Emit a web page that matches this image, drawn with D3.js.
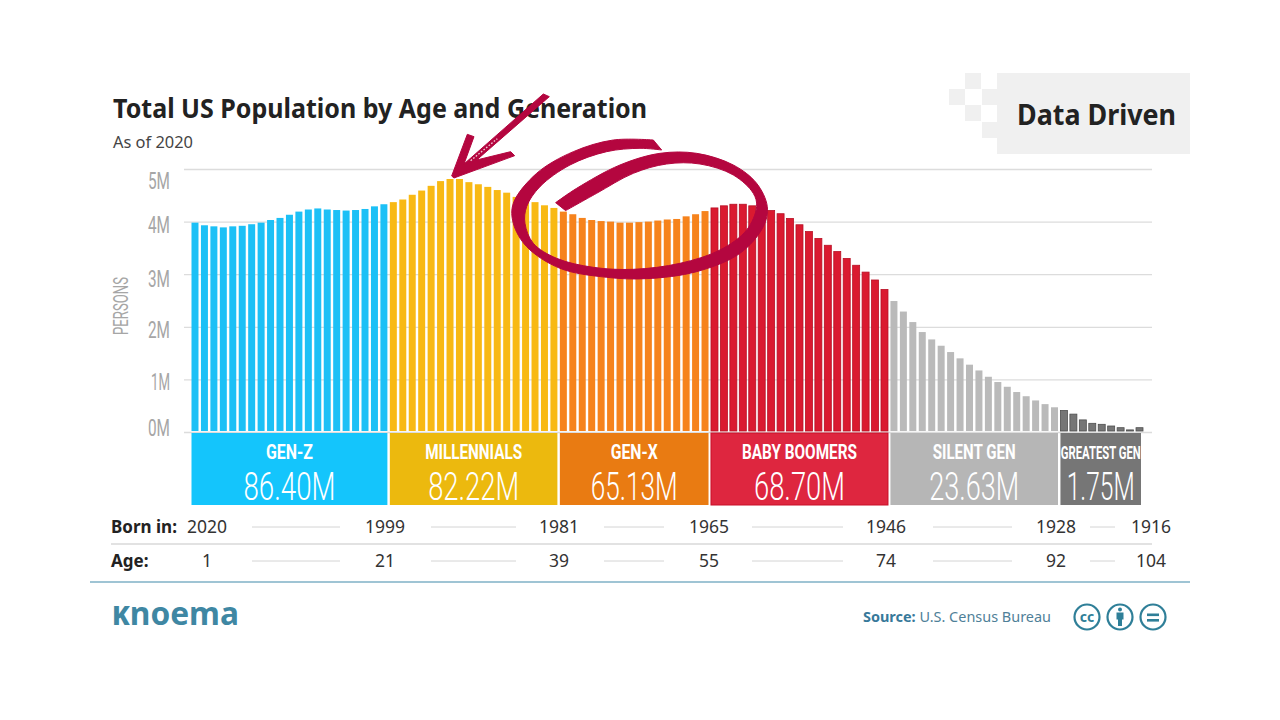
<!DOCTYPE html>
<html lang="en">
<head>
  <meta charset="UTF-8">
  <title>Total US Population by Age and Generation</title>
  <script src="https://d3js.org/d3.v7.min.js"></script>
  <style>
    body { margin: 0; background: #fff; }
    svg { display: block; }
    text { font-family: "Noto Sans", "Open Sans", sans-serif; }
    .cond { font-family: "Roboto", "Liberation Sans Narrow", sans-serif; }
    .axis path { display: none; }
    .axis line { stroke: #dcdcdc; stroke-width: 1.3px; }
    .axis text { fill: #a6a6a6; font-size: 23px; font-weight: 400; font-family: "Roboto", sans-serif; }
  </style>
</head>
<body>
  <div id="chart"></div>
  <script>
    // population per single year of age, millions
    const genZ = [3.98, 3.93, 3.91, 3.89, 3.91, 3.92, 3.95, 3.98, 4.03, 4.07, 4.13, 4.19, 4.23, 4.25, 4.23, 4.22, 4.21, 4.22, 4.24, 4.29, 4.33];
    const millennials = [4.37, 4.42, 4.51, 4.59, 4.68, 4.77, 4.81, 4.81, 4.75, 4.71, 4.66, 4.60, 4.55, 4.47, 4.41, 4.37, 4.31, 4.26];
    const genX = [4.19, 4.14, 4.07, 4.03, 4.01, 4.00, 3.98, 3.98, 3.99, 4.00, 4.02, 4.04, 4.05, 4.10, 4.14, 4.20];
    const boomers = [4.26, 4.30, 4.33, 4.33, 4.30, 4.26, 4.21, 4.15, 4.06, 3.94, 3.81, 3.68, 3.55, 3.43, 3.30, 3.17, 3.04, 2.89, 2.71];
    const silent = [2.49, 2.29, 2.09, 1.90, 1.76, 1.64, 1.52, 1.40, 1.28, 1.17, 1.05, 0.95, 0.86, 0.76, 0.68, 0.60, 0.53, 0.47];
    const greatest = [0.41, 0.34, 0.23, 0.165, 0.146, 0.114, 0.082, 0.04, 0.082];

    const genNames = ["GEN-Z", "MILLENNIALS", "GEN-X", "BABY BOOMERS", "SILENT GEN", "GREATEST GEN"];
    const genTotals = ["86.40M", "82.22M", "65.13M", "68.70M", "23.63M", "1.75M"];
    const genSeries = [genZ, millennials, genX, boomers, silent, greatest];
    const bornLabels = ["2020", "1999", "1981", "1965", "1946", "1928", "1916"];
    const ageLabels = ["1", "21", "39", "55", "74", "92", "104"];
    const yTicks = [0, 1, 2, 3, 4, 5];

    // styles
    const barColors = ["#1cc0f6", "#f8b914", "#f6831c", "#da1a30", "#bababa", "#767676"];
    const barStrokes = ["none", "none", "none", "#b80f24", "none", "#4f4f4f"];
    const blockColors = ["#14c5fc", "#ecb90e", "#e97b12", "#de263f", "#b6b6b6", "#767676"];
    const blockStrokes = ["none", "none", "none", "#c90f28", "none", "none"];
    const nameWidths = [47, 97, 47, 115, 83, 80];
    const totalWidths = [92, 91, 87, 91, 90, 68];
    const labelX = [207, 385, 559, 709, 886, 1056, 1151];
    const ruleX = [[252, 340], [431, 516], [604, 664], [752, 843], [933, 1012], [1090, 1115]];
    const tickNudge = [-5, 2, 3, 4, 3, 11];   // labels don't sit exactly on their gridlines

    const svg = d3.select("#chart").append("svg").attr("width", 1280).attr("height", 720);

    const y = d3.scaleLinear().domain([0, 5]).range([432, 169]);

    let bars = [];
    genSeries.forEach((s, g) => s.forEach(v => bars.push({ g, v, i: bars.length })));

    const x = d3.scaleBand().domain(d3.range(bars.length)).range([191.5, 1143]).paddingInner(0.26).paddingOuter(0);

    // gridlines + y labels
    const axis = svg.append("g")
      .attr("class", "axis")
      .attr("transform", "translate(1152,0)")
      .call(d3.axisLeft(y).tickValues(yTicks).tickSize(968).tickPadding(14).tickFormat(d => d + "M"));
    axis.selectAll("text")
      .attr("textLength", d => d == 1 ? 19 : 22)
      .attr("lengthAdjust", "spacingAndGlyphs")
      .attr("dy", (d, i) => 8 + tickNudge[i]);

    svg.append("text")
      .attr("class", "cond")
      .attr("transform", "translate(128,306) rotate(-90)")
      .attr("text-anchor", "middle")
      .attr("fill", "#a6a6a6")
      .attr("font-size", 21)
      .attr("textLength", 58)
      .attr("lengthAdjust", "spacingAndGlyphs")
      .text("PERSONS");

    // bars, they stop just above the blocks
    svg.selectAll(".bar").data(bars).enter().append("rect")
      .attr("class", "bar")
      .attr("x", d => x(d.i))
      .attr("y", d => y(d.v))
      .attr("width", x.bandwidth())
      .attr("height", d => y(0) - y(d.v) - 1)
      .attr("fill", d => barColors[d.g])
      .attr("stroke", d => barStrokes[d.g])
      .attr("stroke-width", 0.8);

    // generation blocks under the bars
    let start = 0;
    const blocks = genSeries.map((s, g) => {
      const b = { g, x0: x(start), x1: x(start + s.length - 1) + x.bandwidth() - (g == 5 ? 2 : 0) };
      start += s.length;
      return b;
    });

    svg.selectAll(".block").data(blocks).enter().append("rect")
      .attr("class", "block")
      .attr("x", d => d.x0)
      .attr("y", 433)
      .attr("width", d => d.x1 - d.x0)
      .attr("height", 72)
      .attr("fill", d => blockColors[d.g])
      .attr("stroke", d => blockStrokes[d.g]);

    svg.selectAll(".gen-name").data(blocks).enter().append("text")
      .attr("class", "gen-name cond")
      .attr("x", d => (d.x0 + d.x1) / 2)
      .attr("y", 458.5)
      .attr("text-anchor", "middle")
      .attr("fill", "#fff")
      .attr("font-weight", 700)
      .attr("font-size", d => d.g == 5 ? 18 : 21)
      .attr("textLength", d => nameWidths[d.g])
      .attr("lengthAdjust", "spacingAndGlyphs")
      .text(d => genNames[d.g]);

    svg.selectAll(".gen-total").data(blocks).enter().append("text")
      .attr("class", "gen-total cond")
      .attr("x", d => (d.x0 + d.x1) / 2)
      .attr("y", 500)
      .attr("text-anchor", "middle")
      .attr("fill", "#fff")
      .attr("font-weight", 300)
      .attr("font-size", 39)
      .attr("textLength", d => totalWidths[d.g])
      .attr("lengthAdjust", "spacingAndGlyphs")
      .text(d => genTotals[d.g]);

    // born in / age rows
    function row(labels, rowY, title) {
      svg.append("text").attr("x", 111).attr("y", rowY + 6)
        .attr("font-size", 17).attr("font-weight", 700).attr("fill", "#222").text(title);
      svg.selectAll(null).data(labels).enter().append("text")
        .attr("x", (d, i) => labelX[i])
        .attr("y", rowY + 6)
        .attr("text-anchor", "middle")
        .attr("font-size", 17.5)
        .attr("fill", "#333")
        .text(d => d);
      svg.selectAll(null).data(ruleX).enter().append("line")
        .attr("x1", d => d[0]).attr("x2", d => d[1])
        .attr("y1", rowY).attr("y2", rowY)
        .attr("stroke", "#d4d4d4");
    }
    row(bornLabels, 527, "Born in:");
    row(ageLabels, 561, "Age:");
    svg.append("line").attr("x1", 111).attr("x2", 1152).attr("y1", 544).attr("y2", 544)
      .attr("stroke", "#d8d8d8").attr("stroke-width", 1.3);

    // title
    svg.append("text").attr("x", 113).attr("y", 118)
      .attr("font-size", 27).attr("font-weight", 700).attr("fill", "#222")
      .attr("textLength", 534).attr("lengthAdjust", "spacingAndGlyphs")
      .text("Total US Population by Age and Generation");
    svg.append("text").attr("x", 113).attr("y", 148)
      .attr("font-size", 15.5).attr("fill", "#444")
      .attr("textLength", 80).attr("lengthAdjust", "spacingAndGlyphs")
      .text("As of 2020");

    // Data Driven badge
    const badge = svg.append("g").attr("fill", "#f0f0f0");
    badge.append("rect").attr("x", 997).attr("y", 73).attr("width", 193).attr("height", 81);
    [[965, 73], [949, 89], [982, 89], [965, 105], [982, 122]].forEach(p =>
      badge.append("rect").attr("x", p[0]).attr("y", p[1]).attr("width", 16).attr("height", 16));
    svg.append("text").attr("x", 1017).attr("y", 125)
      .attr("font-size", 29).attr("font-weight", 700).attr("fill", "#222")
      .attr("textLength", 159).attr("lengthAdjust", "spacingAndGlyphs")
      .text("Data Driven");

    // footer
    svg.append("line").attr("x1", 90).attr("x2", 1190).attr("y1", 582).attr("y2", 582)
      .attr("stroke", "#9fc4d4").attr("stroke-width", 2);
    const logo = svg.append("text").attr("x", 112).attr("y", 625)
      .attr("font-size", 33).attr("font-weight", 700).attr("fill", "#3f87a3")
      .attr("textLength", 127).attr("lengthAdjust", "spacingAndGlyphs");
    logo.append("tspan").style("font-variant", "small-caps").text("k");
    logo.append("tspan").text("noema");
    const source = svg.append("text").attr("x", 863).attr("y", 622)
      .attr("font-size", 15).attr("fill", "#4f8098")
      .attr("textLength", 188).attr("lengthAdjust", "spacingAndGlyphs");
    source.append("tspan").attr("font-weight", 700).attr("fill", "#37799a").text("Source: ");
    source.append("tspan").text("U.S. Census Bureau");

    // cc icons
    const teal = "#2f7f98";
    const icons = svg.append("g");
    [1087, 1120, 1153].forEach(cx => icons.append("circle")
      .attr("cx", cx).attr("cy", 617).attr("r", 12.5)
      .attr("fill", "none").attr("stroke", teal).attr("stroke-width", 2.2));
    icons.append("text").attr("x", 1087).attr("y", 622).attr("text-anchor", "middle")
      .attr("font-size", 14).attr("font-weight", 700).attr("fill", teal).text("cc");
    icons.append("circle").attr("cx", 1120).attr("cy", 609.5).attr("r", 2).attr("fill", teal);
    icons.append("rect").attr("x", 1116.5).attr("y", 612.5).attr("width", 7).attr("height", 7).attr("fill", teal);
    icons.append("rect").attr("x", 1118).attr("y", 619).attr("width", 4).attr("height", 7).attr("fill", teal);
    [613.5, 619].forEach(ly => icons.append("rect")
      .attr("x", 1147).attr("y", ly).attr("width", 12).attr("height", 2.6).attr("fill", teal));

    // hand drawn marks, traced at 3x around (380,90)
    const ink = "#b4063f";
    const marks = svg.append("g").attr("transform", "translate(380,90) scale(0.3333)")
      .attr("stroke", ink).attr("stroke-width", 3).attr("stroke-linejoin", "round");
    const arrow = [[215, 258], [262, 133], [282, 140], [252, 222], [490, 12], [508, 20], [290, 210], [392, 185], [404, 197], [222, 264]];
    marks.append("path")
      .attr("d", d3.line()(arrow) + "Z")
      .attr("fill", ink);
    // the marker runs dry near the head
    marks.append("line")
      .attr("x1", 272).attr("y1", 212).attr("x2", 352).attr("y2", 146)
      .attr("stroke", "#f3c6d4").attr("stroke-width", 4).attr("stroke-dasharray", "5 5");

    const swoosh = [[820, 150], [700, 150], [580, 185], [470, 250], [400, 340], [400, 400], [440, 470], [540, 535], [680, 562], [800, 566],
      [950, 545], [1080, 490], [1150, 410], [1162, 350], [1130, 280], [1060, 225], [950, 190], [840, 190], [720, 225], [590, 295], [527, 338]];
    const swooshBack = [[557, 362], [650, 310], [760, 250], [860, 222], [960, 222], [1060, 255], [1120, 310], [1130, 350], [1100, 420], [1020, 480],
      [900, 520], [760, 538], [640, 532], [530, 505], [460, 460], [435, 400], [440, 350], [480, 290], [570, 225], [680, 185], [780, 175], [845, 180]];
    const curve = d3.line().curve(d3.curveCatmullRom);
    marks.append("path")
      .attr("d", curve(swoosh) + "L" + curve(swooshBack).slice(1) + "Z")
      .attr("fill", ink);
  </script>
</body>
</html>
